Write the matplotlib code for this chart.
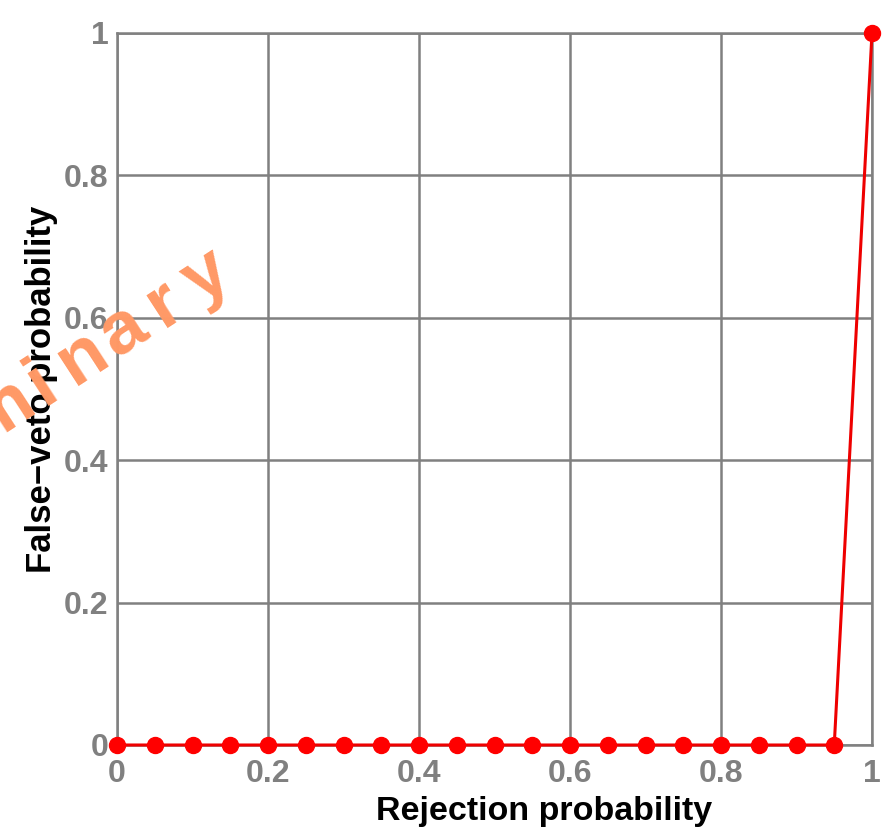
import numpy as np
import matplotlib.pyplot as plt

# values
rejection = [0.0, 0.05, 0.1, 0.15, 0.2, 0.25, 0.3, 0.35, 0.4, 0.45, 0.5,
             0.55, 0.6, 0.65, 0.7, 0.75, 0.8, 0.85, 0.9, 0.95, 1.0]
false_veto = [0, 0, 0, 0, 0, 0, 0, 0, 0, 0, 0,
              0, 0, 0, 0, 0, 0, 0, 0, 0, 1]
ticks = [0, 0.2, 0.4, 0.6, 0.8, 1.0]
tick_labels = ['0', '0.2', '0.4', '0.6', '0.8', '1']
watermark = 'Preliminary'

plt.rcParams['font.family'] = ['Liberation Sans', 'DejaVu Sans']

W, H = 884, 831
fig = plt.figure(figsize=(W / 100, H / 100), dpi=100)
ax = fig.add_axes([117 / W, 1 - 745 / H, (872 - 117) / W, (745 - 33) / H])

grey = '#808080'
ax.plot(rejection, false_veto, color='#ee0000', lw=2.2, marker='o',
        markersize=11.5, markerfacecolor='#ff0000', markeredgecolor='#ff0000',
        clip_on=False, zorder=5)

ax.set_xlim(0, 1)
ax.set_ylim(0, 1)
ax.set_xticks(ticks)
ax.set_yticks(ticks)
ax.set_xticklabels(tick_labels)
ax.set_yticklabels(tick_labels)
ax.tick_params(length=0, labelsize=23, labelcolor=grey)
ax.tick_params(axis='x', pad=10)
ax.tick_params(axis='y', pad=6)
for lab in ax.get_xticklabels() + ax.get_yticklabels():
    lab.set_fontweight('bold')
ax.grid(True, color=grey, lw=1.8)
ax.set_axisbelow(True)
for s in ax.spines.values():
    s.set_color(grey)
    s.set_linewidth(1.8)

ax.set_xlabel('Rejection probability', fontsize=24.5, fontweight='bold',
              color='black', labelpad=2)
ax.xaxis.set_label_coords(0.566, -0.071)
ax.set_ylabel('False\u2212veto probability', fontsize=25, fontweight='bold',
              color='black', labelpad=4)

# spaced-out watermark, letter by letter along a tilted baseline
ang = np.deg2rad(33)
step = 49
end_x, end_y = 206, 277   # centre of the last letter, pixels from top-left
n = len(watermark)
for i, ch in enumerate(watermark):
    d = (n - 1 - i) * step
    px = end_x - d * np.cos(ang)
    py = end_y + d * np.sin(ang)
    fig.text(px / W, 1 - py / H, ch, fontsize=54, fontweight='bold',
             color='#ff9966', rotation=33, ha='center', va='center',
             zorder=20, rotation_mode='anchor')

fig.savefig('out.png', dpi=100)
